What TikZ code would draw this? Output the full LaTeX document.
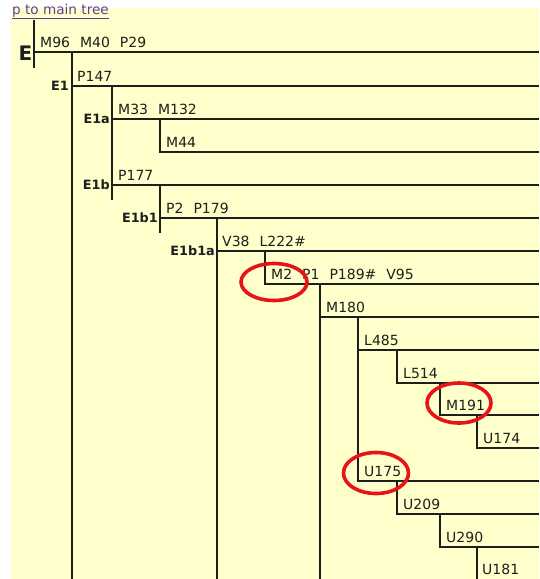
\documentclass[tikz,border=0pt]{standalone}
\usepackage{fontspec}
\setmainfont{DejaVu Sans}
\definecolor{bgyellow}{RGB}{255,255,204}
\definecolor{linkpurple}{RGB}{95,60,150}
\definecolor{ringred}{RGB}{230,20,25}
\definecolor{inkgray}{RGB}{30,30,30}
\newcommand\gp{\hspace{10pt}}
\tikzset{
  branch/.style={line width=1.6pt, draw=inkgray, line join=miter},
  mut/.style={anchor=base west, inner sep=0pt, font=\fontsize{14}{16}\selectfont, text=inkgray},
  clade/.style={anchor=base east, inner sep=0pt, font=\fontsize{12.8}{15}\selectfont\bfseries, text=inkgray},
  ring/.style={draw=ringred, line width=3.6pt},
}
\begin{document}
\begin{tikzpicture}[x=1pt,y=-1pt]
\useasboundingbox (0,0) rectangle (539,579);
\fill[white] (0,0) rectangle (539,579);
\fill[bgyellow] (11,8) rectangle (539,579);
% link
\node[anchor=base west, inner sep=0pt, text=linkpurple, font=\fontsize{13.6}{16}\selectfont] (link) at (12,14) {\underline{p to main tree}};
% junction coordinates
\coordinate (E) at (34,52);
\coordinate (Etop) at (34,20);
\coordinate (Ebot) at (34,68);
\coordinate (E1) at (72,86);
\coordinate (E1v) at (72,52);
\coordinate (E1a) at (112,119);
\coordinate (E1av) at (112,86);
\coordinate (E1bend) at (112,200);
\coordinate (M44) at (160,152);
\coordinate (M44v) at (160,119);
\coordinate (E1b) at (112,185);
\coordinate (E1b1) at (160,218);
\coordinate (E1b1v) at (160,185);
\coordinate (E1b1end) at (160,233);
\coordinate (E1b1a) at (217,251);
\coordinate (E1b1av) at (217,218);
\coordinate (M2) at (265,284);
\coordinate (M2v) at (265,251);
\coordinate (M180) at (320,317);
\coordinate (M180v) at (320,284);
\coordinate (L485) at (358,350);
\coordinate (L485v) at (358,317);
\coordinate (L514) at (397,383);
\coordinate (L514v) at (397,350);
\coordinate (M191) at (440,415);
\coordinate (M191v) at (440,383);
\coordinate (U174) at (477,448);
\coordinate (U174v) at (477,415);
\coordinate (U175) at (358,481);
\coordinate (U209) at (397,514);
\coordinate (U209v) at (397,481);
\coordinate (U290) at (440,547);
\coordinate (U290v) at (440,514);
\coordinate (U181v) at (477,547);
% lines
\draw[branch] (Etop) -- (Ebot);
\draw[branch] (E) -- (E -| 539,0);
\draw[branch] (E1v) -- (72,579);
\draw[branch] (E1) -- (E1 -| 539,0);
\draw[branch] (E1av) -- (E1bend);
\draw[branch] (E1a) -- (E1a -| 539,0);
\draw[branch] (M44v) -- (M44) -- (M44 -| 539,0);
\draw[branch] (E1b) -- (E1b -| 539,0);
\draw[branch] (E1b1v) -- (E1b1end);
\draw[branch] (E1b1) -- (E1b1 -| 539,0);
\draw[branch] (E1b1av) -- (217,579);
\draw[branch] (E1b1a) -- (E1b1a -| 539,0);
\draw[branch] (M2v) -- (M2) -- (M2 -| 539,0);
\draw[branch] (M180v) -- (320,579);
\draw[branch] (M180) -- (M180 -| 539,0);
\draw[branch] (L485v) -- (U175) -- (U175 -| 539,0);
\draw[branch] (L485) -- (L485 -| 539,0);
\draw[branch] (L514v) -- (L514) -- (L514 -| 539,0);
\draw[branch] (M191v) -- (M191) -- (M191 -| 539,0);
\draw[branch] (U174v) -- (U174) -- (U174 -| 539,0);
\draw[branch] (U209v) -- (U209) -- (U209 -| 539,0);
\draw[branch] (U290v) -- (U290) -- (U290 -| 539,0);
\draw[branch] (U181v) -- (477,579);
% clade labels
\node[clade, font=\fontsize{20}{22}\selectfont\bfseries] (lE) at ([shift={(-1.5,8)}]E) {E};
\node[clade] (lE1) at ([shift={(-3,4)}]E1) {E1};
\node[clade] (lE1a) at ([shift={(-2,4)}]E1a) {E1a};
\node[clade] (lE1b) at ([shift={(-2,4)}]E1b) {E1b};
\node[clade] (lE1b1) at ([shift={(-2,4)}]E1b1) {E1b1};
\node[clade] (lE1b1a) at ([shift={(-2,4)}]E1b1a) {E1b1a};
% mutation labels
\node[mut] (tE) at ([shift={(6,-5)}]E) {M96\gp M40\gp P29};
\node[mut] (tE1) at ([shift={(5,-5)}]E1) {P147};
\node[mut] (tE1a) at ([shift={(6,-5)}]E1a) {M33\gp M132};
\node[mut] (tM44) at ([shift={(6,-5)}]M44) {M44};
\node[mut] (tE1b) at ([shift={(6,-5)}]E1b) {P177};
\node[mut] (tE1b1) at ([shift={(6,-5)}]E1b1) {P2\gp P179};
\node[mut] (tE1b1a) at ([shift={(5,-5)}]E1b1a) {V38\gp L222\#};
\node[mut] (tM2) at ([shift={(6,-5)}]M2) {M2\gp P1\gp P189\#\gp V95};
\node[mut] (tM180) at ([shift={(6,-5)}]M180) {M180};
\node[mut] (tL485) at ([shift={(6,-5)}]L485) {L485};
\node[mut] (tL514) at ([shift={(6,-5)}]L514) {L514};
\node[mut] (tM191) at ([shift={(6,-5)}]M191) {M191};
\node[mut] (tU174) at ([shift={(6,-5)}]U174) {U174};
\node[mut] (tU175) at ([shift={(6,-5)}]U175) {U175};
\node[mut] (tU209) at ([shift={(6,-5)}]U209) {U209};
\node[mut] (tU290) at ([shift={(6,-5)}]U290) {U290};
\node[mut] (tU181) at (482,574) {U181};
% red rings
\draw[ring] (274,282) ellipse [x radius=33pt, y radius=18.5pt];
\draw[ring] (459,403) ellipse [x radius=32pt, y radius=20pt];
\draw[ring] (376,473) ellipse [x radius=32.5pt, y radius=20.5pt];
\end{tikzpicture}
\end{document}
